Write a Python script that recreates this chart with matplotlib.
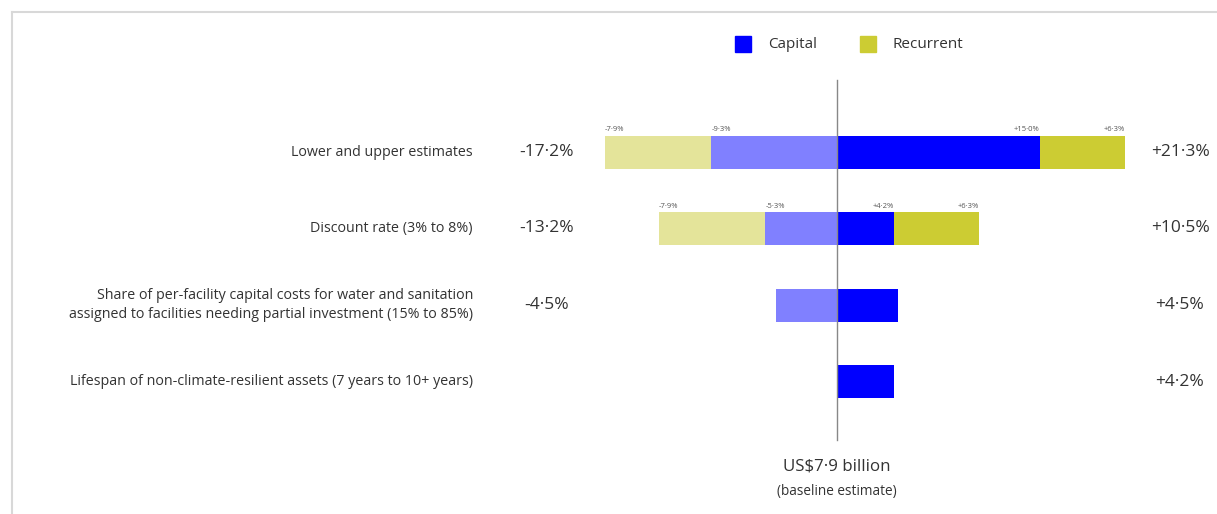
import matplotlib

matplotlib.use("Agg")
import matplotlib.pyplot as plt
from matplotlib.lines import Line2D
from matplotlib.patches import Rectangle

plt.rcParams["font.family"] = ["Open Sans", "DejaVu Sans"]

CATEGORIES = [
    "Lower and upper estimates",
    "Discount rate (3% to 8%)",
    "Share of per-facility capital costs for water and sanitation\n"
    "assigned to facilities needing partial investment (15% to 85%)",
    "Lifespan of non-climate-resilient assets (7 years to 10+ years)",
]
CAPITAL_LOW = [-9.3, -5.3, -4.5, 0.0]
RECURRENT_LOW = [-7.9, -7.9, 0.0, 0.0]
CAPITAL_HIGH = [15.0, 4.2, 4.5, 4.2]
RECURRENT_HIGH = [6.3, 6.3, 0.0, 0.0]
TOTAL_LOW = ["-17·2%", "-13·2%", "-4·5%", ""]
TOTAL_HIGH = ["+21·3%", "+10·5%", "+4·5%", "+4·2%"]
SEGMENT_LABELS = [True, True, False, False]

CAPITAL = "#0000ff"
CAPITAL_LIGHT = "#8080ff"
RECURRENT = "#cccc33"
RECURRENT_LIGHT = "#e4e49a"
TEXT = "#333333"

W, H = 1217, 514
PX_PER_PCT = 13.5
ZERO_X = 837
ROW0_Y = 152
ROW_STEP = 76.5

fig = plt.figure(figsize=(W / 100, H / 100), dpi=100)
ax = fig.add_axes([0, 0, 1, 1])
ax.set_xlim(-ZERO_X / PX_PER_PCT, (W - ZERO_X) / PX_PER_PCT)
ax.set_ylim((H - ROW0_Y) / ROW_STEP, -ROW0_Y / ROW_STEP)
ax.axis("off")

bar_h = 33 / ROW_STEP


def seg_label(x, y, text, ha):
    ax.text(x, y - bar_h / 2 - 0.03, text, ha=ha, va="bottom", fontsize=5.5, color="#555555")


for i, cat in enumerate(CATEGORIES):
    cl, rl = CAPITAL_LOW[i], RECURRENT_LOW[i]
    ch, rh = CAPITAL_HIGH[i], RECURRENT_HIGH[i]
    if cl:
        ax.barh(i, cl, height=bar_h, color=CAPITAL_LIGHT, linewidth=0)
    if rl:
        ax.barh(i, rl, left=cl, height=bar_h, color=RECURRENT_LIGHT, linewidth=0)
    if ch:
        ax.barh(i, ch, height=bar_h, color=CAPITAL, linewidth=0)
    if rh:
        ax.barh(i, rh, left=ch, height=bar_h, color=RECURRENT, linewidth=0)

    if SEGMENT_LABELS[i]:
        seg_label(cl + rl, i, f"{rl:.1f}%".replace(".", "·"), "left")
        seg_label(cl, i, f"{cl:.1f}%".replace(".", "·"), "left")
        seg_label(ch, i, f"+{ch:.1f}%".replace(".", "·"), "right")
        seg_label(ch + rh, i, f"+{rh:.1f}%".replace(".", "·"), "right")

    ax.text((473 - ZERO_X) / PX_PER_PCT, i, cat, ha="right", va="center",
            fontsize=10.3, color=TEXT, linespacing=1.3)
    ax.text((547 - ZERO_X) / PX_PER_PCT, i, TOTAL_LOW[i], ha="center", va="center",
            fontsize=12.5, color=TEXT)
    ax.text((1180 - ZERO_X) / PX_PER_PCT, i, TOTAL_HIGH[i], ha="center", va="center",
            fontsize=12.5, color=TEXT)

# baseline line
ax.plot([0, 0], [(80 - ROW0_Y) / ROW_STEP, (440 - ROW0_Y) / ROW_STEP],
        color="#888888", linewidth=1)
ax.text(0, (467 - ROW0_Y) / ROW_STEP, "US$7·9 billion", ha="center", va="center",
        fontsize=12.2, color=TEXT)
ax.text(0, (491 - ROW0_Y) / ROW_STEP, "(baseline estimate)", ha="center", va="center",
        fontsize=9.8, color=TEXT)

# legend
for x0, color, label in [(735, CAPITAL, "Capital"), (860, RECURRENT, "Recurrent")]:
    fig.patches.append(Rectangle((x0 / W, 1 - 52 / H), 16 / W, 16 / H,
                                 transform=fig.transFigure, color=color))
    fig.text((x0 + 33) / W, 1 - 44 / H, label, ha="left", va="center",
             fontsize=11, color=TEXT)

# frame
fig.lines.append(Line2D([12 / W, 1], [1 - 12 / H, 1 - 12 / H],
                        transform=fig.transFigure, color="#d8d8d8", linewidth=1.5))
fig.lines.append(Line2D([12 / W, 12 / W], [0, 1 - 12 / H],
                        transform=fig.transFigure, color="#d8d8d8", linewidth=1.5))

fig.savefig("out.png", dpi=100, facecolor="white")
